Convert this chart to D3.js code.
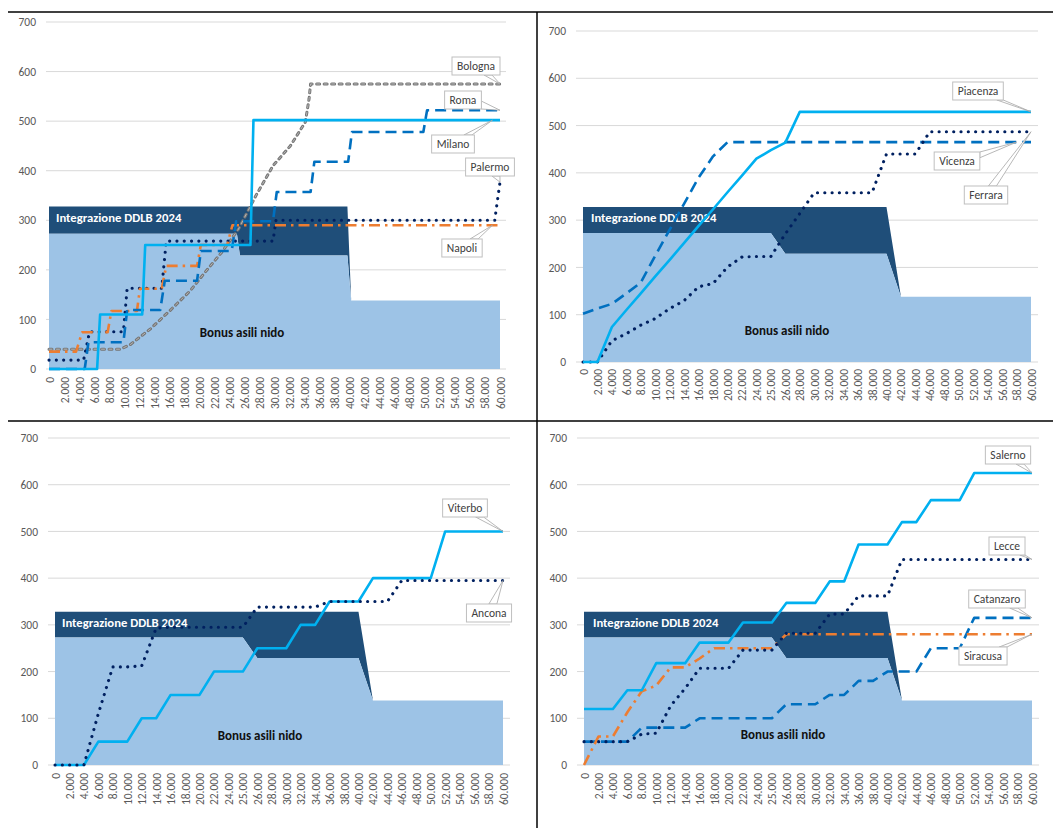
<!DOCTYPE html>
<html><head><meta charset="utf-8">
<script src="https://cdn.jsdelivr.net/npm/d3@7"></script>
<style>
body{margin:0;background:#fff;}
svg text{font-family: Carlito, Calibri, Lato, "Open Sans", sans-serif;}
</style></head>
<body><svg id="c" width="1053" height="828"></svg>
<script>
// ================= DATA =================
// y-axis ticks (all panels)
const yTicks = [0,100,200,300,400,500,600,700];
// panel 1 (top-left): continuous income axis, tick labels every 2.000
const p1Ticks = [0,2000,4000,6000,8000,10000,12000,14000,16000,18000,20000,22000,24000,26000,28000,30000,32000,34000,36000,38000,40000,42000,44000,46000,48000,50000,52000,54000,56000,58000,60000];
// panels 2-4: income categories
const incomeCats = [0,2000,4000,6000,8000,10000,12000,14000,16000,18000,20000,22000,24000,25000,26000,28000,30000,32000,34000,36000,38000,40000,42000,44000,46000,48000,50000,52000,54000,56000,58000,60000];

// stacked areas, panel 1 (income, value)
const p1AreaIncome = [0,25000,25400,39700,40200,60000];
const p1Bonus      = [273,273,229,229,138,138];
const p1Integr     = [55,55,99,99,0,0];
// stacked areas, panels 2-4 (one value per category)
const bonusCat  = [273,273,273,273,273,273,273,273,273,273,273,273,273,273,229,229,229,229,229,229,229,229,138,138,138,138,138,138,138,138,138,138];
const integrCat = [55,55,55,55,55,55,55,55,55,55,55,55,55,55,99,99,99,99,99,99,99,99,0,0,0,0,0,0,0,0,0,0];

// panel 1 series: [income, euro]
const bologna = [[0,40],[9500,40],[10800,49],[13500,81],[16100,118],[18800,158],[20700,194],[22900,234],[25200,282],[27500,349],[29800,410],[32100,450],[34100,498],[34600,545],[34800,575],[60000,575]];
const roma    = [[0,0],[4750,0],[5250,54],[9900,54],[10400,119],[14800,119],[15400,178],[19700,178],[20200,238],[24300,238],[24900,298],[29800,298],[30300,357],[34800,357],[35300,418],[39800,418],[40300,478],[49800,478],[50300,522],[60000,522]];
const milano  = [[0,0],[6400,0],[6800,110],[12400,110],[12800,250],[26800,250],[27200,502],[60000,502]];
const palermo = [[0,18],[4600,18],[5400,75],[9900,75],[10400,163],[15000,163],[15600,258],[29800,258],[30200,300],[59300,300],[60000,377]];
const napoli  = [[0,35],[3600,35],[4400,74],[7800,74],[8300,117],[11700,117],[12100,162],[15000,162],[15600,208],[19700,208],[20200,250],[23700,250],[24400,290],[60000,290]];

// panel 2 series (per category)
const piacenza = [0,0,74,110,145,181,216,252,288,323,359,394,430,448,464,529,529,529,529,529,529,529,529,529,529,529,529,529,529,529,529,529];
const vicenza  = [102,113,123,145,168,225,280,335,390,435,465,465,465,465,465,465,465,465,465,465,465,465,465,465,465,465,465,465,465,465,465,465];
const ferrara  = [0,0,45,60,78,92,113,130,159,166,201,222,223,223,271,314,358,358,358,358,358,440,440,440,487,487,487,487,487,487,487,487];
// panel 3 series
const viterbo = [0,0,0,50,50,50,100,100,150,150,150,200,200,200,250,250,250,300,300,350,350,350,400,400,400,400,400,500,500,500,500,500];
const ancona  = [0,0,0,110,210,210,212,293,295,295,295,295,295,295,338,338,338,338,338,350,350,350,350,350,395,395,395,395,395,395,395,395];
// panel 4 series
const salerno   = [120,120,120,160,160,218,218,218,262,262,262,305,305,305,347,347,347,393,393,472,472,472,520,520,567,567,567,625,625,625,625,625];
const lecce     = [50,50,50,50,66,68,127,164,207,207,207,246,246,246,282,282,282,323,323,362,362,362,440,440,440,440,440,440,440,440,440,440];
const catanzaro = [50,50,50,50,80,80,80,80,100,100,100,100,100,100,130,130,130,150,150,180,180,200,200,200,250,250,250,315,315,315,315,315];
const siracusa  = [0,61,61,113,158,170,209,209,228,250,250,250,250,250,280,280,280,280,280,280,280,280,280,280,280,280,280,280,280,280,280,280];

// ================= STYLE / LAYOUT =================
const C = {cyan:"#00B0F0", blue:"#0070C0", navy:"#002060", orange:"#ED7D31", gray:"#767676",
           light:"#9DC3E6", dark:"#1F4E79", grid:"#D9D9D9", tick:"#595959", label:"#404040"};
const lineStyles = {
  solid:   {stroke:C.cyan,   w:2.6, dash:null,          cap:"butt"},
  dash:    {stroke:C.blue,   w:2.6, dash:"11,6",        cap:"butt"},
  dot:     {stroke:C.navy,   w:3.1, dash:"0.1,7.2",     cap:"round"},
  dashdot: {stroke:C.orange, w:2.6, dash:"11,5,2.5,5",  cap:"butt"},
  gray:    {stroke:C.gray,   w:3,   dash:"3,4.5",       cap:"round", inner:"#BDBDBD"}
};
const TICK_FS = "11.5px", CALLOUT_FS = "11.5px";
const itFmt = d3.formatLocale({decimal:",", thousands:".", grouping:[3], currency:["€",""]}).format(",");

const panels = [
  {kind:"linear", xr:[49,500], yr:[369,22], grid:[46,506], labR:36, xLabTop:377,
   areaX:p1AreaIncome, bonus:p1Bonus, integr:p1Integr,
   integrText:[56], bonusText:[242,332],
   series:[
     {name:"Bologna", data:bologna, st:"gray",    anchor:60000, box:[476,66]},
     {name:"Palermo", data:palermo, st:"dot",     anchor:60000, box:[490,167]},
     {name:"Napoli",  data:napoli,  st:"dashdot", anchor:59000, box:[462,248]},
     {name:"Roma",    data:roma,    st:"dash",    anchor:60000, box:[463,100]},
     {name:"Milano",  data:milano,  st:"solid",   anchor:59000, box:[453,144]}
   ]},
  {kind:"cat", xr:[583,1031], yr:[362,31], grid:[576,1038], labR:566, xLabTop:369,
   integrText:[591], bonusText:[787,330],
   series:[
     {name:"Vicenza",  data:vicenza,  st:"dash",  anchor:30, box:[957,161]},
     {name:"Ferrara",  data:ferrara,  st:"dot",   anchor:31, box:[986,195]},
     {name:"Piacenza", data:piacenza, st:"solid", anchor:31, box:[978,91]}
   ]},
  {kind:"cat", xr:[55,503], yr:[765,438], grid:[48,510], labR:38, xLabTop:773,
   integrText:[62], bonusText:[260,735],
   series:[
     {name:"Viterbo", data:viterbo, st:"solid", anchor:31, box:[465,508]},
     {name:"Ancona",  data:ancona,  st:"dot",   anchor:31, box:[489,613]}
   ]},
  {kind:"cat", xr:[584,1032], yr:[765,438], grid:[577,1039], labR:567, xLabTop:773,
   integrText:[593], bonusText:[783,734],
   series:[
     {name:"Catanzaro", data:catanzaro, st:"dash",    anchor:31, box:[997,599]},
     {name:"Siracusa",  data:siracusa,  st:"dashdot", anchor:31, box:[983,656]},
     {name:"Lecce",     data:lecce,     st:"dot",     anchor:31, box:[1007,546]},
     {name:"Salerno",   data:salerno,   st:"solid",   anchor:31, box:[1008,455]}
   ]}
];

// ================= DRAW =================
const svg = d3.select("#c");
svg.append("rect").attr("width",1053).attr("height",828).attr("fill","#fff");

panels.forEach(p => {
  const g = svg.append("g");
  const y = d3.scaleLinear().domain([0,700]).range(p.yr);
  const xs = p.kind === "linear"
    ? d3.scaleLinear().domain([0,60000]).range(p.xr)
    : d3.scalePoint().domain(incomeCats).range(p.xr);

  // gridlines
  g.append("g").selectAll("line").data(yTicks).join("line")
    .attr("x1",p.grid[0]).attr("x2",p.grid[1])
    .attr("y1",d=>y(d)).attr("y2",d=>y(d))
    .attr("stroke",C.grid).attr("stroke-width",1);

  // stacked areas
  const areaRows = p.kind === "linear"
    ? p.areaX.map((v,i)=>({x:xs(v), b:p.bonus[i], t:p.bonus[i]+p.integr[i]}))
    : incomeCats.map((v,i)=>({x:xs(v), b:bonusCat[i], t:bonusCat[i]+integrCat[i]}));
  g.append("path").datum(areaRows)
    .attr("d", d3.area().x(d=>d.x).y0(d=>y(d.b)).y1(d=>y(d.t)))
    .attr("fill",C.dark);
  g.append("path").datum(areaRows)
    .attr("d", d3.area().x(d=>d.x).y0(y(0)).y1(d=>y(d.b)))
    .attr("fill",C.light);

  // area labels
  const topVal = areaRows[0].t;
  g.append("text").attr("x",p.integrText[0]).attr("y",y(topVal)+11)
    .attr("dy","0.35em").attr("fill","#fff").attr("font-weight","bold")
    .attr("font-size","12.7px").text("Integrazione DDLB 2024");
  g.append("text").attr("x",p.bonusText[0]).attr("y",p.bonusText[1])
    .attr("dy","0.35em").attr("text-anchor","middle").attr("fill","#111")
    .attr("font-weight","bold").attr("font-size","13px").text("Bonus asili nido");

  // y axis labels
  const ya = g.append("g").attr("transform",`translate(${p.labR},0)`)
    .call(d3.axisLeft(y).tickValues(yTicks).tickSize(0).tickPadding(0));
  ya.select(".domain").remove();
  ya.selectAll("text").attr("fill",C.tick).attr("font-size",TICK_FS)
    .style("font-family","Carlito, Calibri, Lato, sans-serif");

  // x axis labels (rotated)
  const xa = g.append("g").attr("transform",`translate(0,${p.xLabTop})`)
    .call(d3.axisBottom(xs).tickValues(p.kind==="linear"?p1Ticks:incomeCats).tickSize(0).tickFormat(itFmt));
  xa.select(".domain").remove();
  xa.selectAll("text").attr("transform","rotate(-90)").attr("x",0).attr("y",0)
    .attr("dy","0.35em").attr("text-anchor","end").attr("fill",C.tick)
    .attr("font-size",TICK_FS).style("font-family","Carlito, Calibri, Lato, sans-serif");

  // lines
  const pts = s => p.kind==="linear"
      ? s.data.map(d=>[xs(d[0]), y(d[1])])
      : s.data.map((v,i)=>[xs(incomeCats[i]), y(v)]);
  const lineGen = d3.line();
  p.series.forEach(s => {
    const st = lineStyles[s.st];
    const path = lineGen(pts(s));
    g.append("path").attr("d",path).attr("fill","none")
      .attr("stroke",st.stroke).attr("stroke-width",st.w)
      .attr("stroke-dasharray",st.dash).attr("stroke-linecap",st.cap)
      .attr("stroke-linejoin","round");
    if (st.inner) {
      g.append("path").attr("d",path).attr("fill","none")
        .attr("stroke",st.inner).attr("stroke-width",0.9)
        .attr("stroke-dasharray",st.dash).attr("stroke-linecap","round");
    }
  });

  // callouts
  p.series.forEach(s => {
    let ax, ay;
    if (p.kind === "linear") {
      const f = d3.scaleLinear().domain(s.data.map(d=>d[0])).range(s.data.map(d=>d[1]));
      ax = xs(s.anchor); ay = y(f(s.anchor));
    } else {
      ax = xs(incomeCats[s.anchor]); ay = y(s.data[s.anchor]);
    }
    const cg = g.append("g");
    const txt = cg.append("text").attr("font-size",CALLOUT_FS).attr("fill",C.label)
      .attr("text-anchor","middle").attr("dy","0.35em")
      .attr("x",s.box[0]).attr("y",s.box[1]).text(s.name);
    const tw = txt.node().getComputedTextLength();
    const bw = tw + 10, bh = 18;
    const cx = s.box[0], cy = s.box[1];
    const dx = ax - cx, dy = ay - cy;
    const tx = (bw/2)/Math.abs(dx||1e-6), ty = (bh/2)/Math.abs(dy||1e-6);
    const t = Math.min(tx, ty);
    const bx = cx + dx*t, by = cy + dy*t;
    let b1, b2;
    if (tx < ty) {
      const yy = Math.max(cy-bh/2+1, Math.min(cy+bh/2-1, by));
      b1 = [bx, Math.max(cy-bh/2, yy-4)]; b2 = [bx, Math.min(cy+bh/2, yy+4)];
    } else {
      const xx = Math.max(cx-bw/2+1, Math.min(cx+bw/2-1, bx));
      b1 = [Math.max(cx-bw/2, xx-4), by]; b2 = [Math.min(cx+bw/2, xx+4), by];
    }
    cg.insert("path","text").attr("d", d3.line()([b1,[ax,ay],b2]) + "Z")
      .attr("fill","#fff").attr("stroke","#A6A6A6").attr("stroke-width",0.8);
    cg.insert("rect","text").attr("x",cx-bw/2).attr("y",cy-bh/2).attr("width",bw).attr("height",bh)
      .attr("fill","#fff").attr("stroke","#BFBFBF").attr("stroke-width",1);
  });
});

// table borders
const bord = svg.append("g").attr("stroke","#000").attr("stroke-width",1.5);
bord.append("line").attr("x1",8).attr("x2",1053).attr("y1",12).attr("y2",12);
bord.append("line").attr("x1",8).attr("x2",1053).attr("y1",421).attr("y2",421);
bord.append("line").attr("x1",537).attr("x2",537).attr("y1",12).attr("y2",828);
</script>
</body></html>
